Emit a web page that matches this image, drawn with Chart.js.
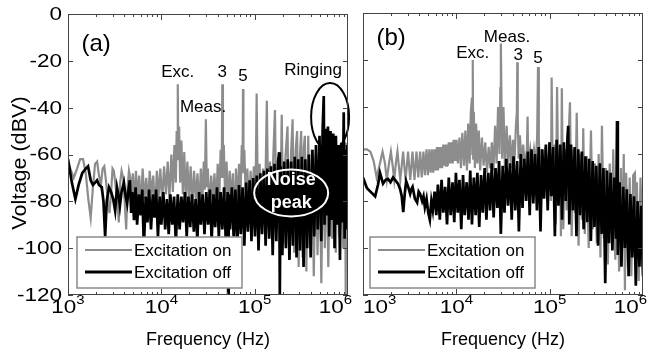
<!DOCTYPE html>
<html>
<head>
<meta charset="utf-8">
<script src="https://cdn.jsdelivr.net/npm/chart.js@4.4.1/dist/chart.umd.min.js"></script>
<style>
  html, body { margin: 0; padding: 0; background: #fff; }
  #wrap { position: relative; width: 652px; height: 352px; }
  #chartA { position: absolute; left: 0; top: 0; }
  #chartB { position: absolute; left: 352px; top: 0; }
</style>
</head>
<body>
<div id="wrap">
  <canvas id="chartA" width="352" height="352"></canvas>
  <canvas id="chartB" width="300" height="352"></canvas>
</div>
<script>
const GRAY = '#8c8c8c';
const FONT = '"Liberation Sans", Arial, sans-serif';

// axis ticks
const yTicks = [0, -20, -40, -60, -80, -100, -120];
const xDecades = [1e3, 1e4, 1e5, 1e6];
const xExponents = ['3', '4', '5', '6'];
const seriesNames = ['Excitation on', 'Excitation off'];

// panel (a): [kHz, dBV]
const onA = [
  [1,-63],[1.08,-67],[1.15,-70],[1.25,-66],[1.35,-62],[1.45,-62],[1.55,-68],[1.65,-79],[1.75,-87],[1.85,-74],
  [1.95,-64],[2.05,-63],[2.15,-69],[2.25,-73],[2.35,-66],[2.45,-65],[2.55,-71],[2.65,-78],[2.78,-85],[2.9,-76],
  [3.0,-66],[3.1,-67],[3.25,-74],[3.4,-81],[3.5,-89],[3.62,-72],[3.75,-67],[3.9,-70],[4.05,-80],[4.2,-92],
  [4.35,-74],[4.5,-67],[4.65,-70],[4.8,-82],[4.95,-68],
  [5.15,-80],[5.35,-67],[5.55,-78],[5.8,-69],[6.05,-84],[6.3,-66],[6.6,-79],[6.9,-70],[7.2,-82],[7.5,-67],
  [7.85,-77],[8.2,-69],[8.55,-85],[8.95,-67],[9.35,-78],[9.75,-66],[10.2,-80],[10.7,-65],[11.2,-77],[11.7,-63],
  [12.2,-79],[12.8,-60],[13.3,-76],[13.8,-56],[14.3,-72],[14.6,-50],[14.8,-62],[15,-30],[15.2,-60],[15.5,-48],
  [15.9,-72],[16.4,-54],[17,-77],[17.6,-59],[18.3,-80],[19,-63],[19.8,-79],[20.6,-65],[21.5,-82],[22.4,-67],
  [23.4,-79],[24.4,-68],[25.4,-83],[26.5,-66],[27.5,-80],[28.5,-63],[29.3,-75],[30,-45],[30.7,-74],[31.5,-66],
  [32.8,-84],[34.2,-69],[35.6,-80],[37.1,-68],[38.6,-82],[40.2,-64],[41.8,-78],[43.2,-58],[44.3,-70],[45,-30],
  [45.7,-70],[46.7,-56],[48.2,-78],[50,-63],[52,-82],[54,-67],[56.2,-80],[58.4,-68],[60.7,-90],[63,-66],
  [65.5,-81],[68,-64],[70.5,-78],[72.8,-56],[74.2,-66],[75,-32],[75.8,-68],[77.5,-58],[80.5,-80],[83.5,-66],
  [87,-85],[90.5,-67],[94,-82],[98,-65],[102,-80],[105,-34],[108,-78],[113,-64],[118,-88],[123,-66],
  [129,-84],[135,-37],[140,-86],[146,-63],[152,-95],[158,-62],[165,-41],[171,-92],[178,-65],[186,-100],
  [195,-43],[203,-98],[213,-62],[225,-48],[234,-105],[245,-60],[255,-45],[265,-102],[275,-58],[285,-50],
  [296,-108],[306,-60],[315,-50],[326,-104],[336,-57],[345,-52],[358,-110],[375,-52],[392,-100],[410,-58],
  [430,-112],[450,-60],[472,-103],[495,-56],[518,-115],[540,-58],[565,-100],[590,-62],[615,-108],[645,-58],
  [675,-96],[705,-60],[740,-102],[775,-58],[810,-95],[850,-60],[890,-100],[930,-55],[945,-120],[960,-60],
  [985,-95],[1000,-85]
];
const offA = [
  [1,-62],[1.1,-72],[1.2,-79],[1.3,-73],[1.42,-68],[1.55,-66],[1.64,-65],[1.75,-71],[1.85,-73],[1.95,-72],
  [2.05,-71],[2.15,-73],[2.3,-74],[2.4,-80],[2.5,-95],[2.6,-80],[2.75,-74],[2.9,-76],[3.05,-79],[3.2,-84],
  [3.35,-74],[3.5,-78],[3.6,-82],[3.75,-76],[3.97,-72],[4.15,-78],[4.3,-81],[4.45,-75],[4.6,-71],[4.75,-85],
  [4.9,-76],
  [5.1,-88],[5.3,-74],[5.5,-90],[5.75,-77],[6.0,-86],[6.25,-75],[6.5,-100],[6.8,-78],[7.1,-89],[7.4,-75],
  [7.75,-92],[8.1,-77],[8.45,-87],[8.8,-75],[9.2,-95],[9.6,-78],[10,-90],[10.5,-76],[11,-92],[11.5,-79],
  [12,-94],[12.5,-77],[13.1,-90],[13.7,-78],[14.3,-98],[15,-77],[15.7,-92],[16.4,-78],[17.1,-89],[17.9,-76],
  [18.7,-95],[19.5,-78],[20.4,-91],[21.3,-77],[22.3,-93],[23.3,-79],[24.3,-97],[25.4,-76],[26.5,-90],[27.7,-77],
  [29,-94],[30.3,-76],[31.7,-90],[33.1,-75],[34.6,-97],[36.2,-77],[37.8,-91],[39.5,-74],[41.3,-95],[43.1,-76],
  [45,-92],[47,-74],[49.1,-98],[51.3,-76],[52,-120],[52.7,-77],[54.5,-92],[57,-74],[59.5,-95],[62.2,-75],
  [65,-101],[68,-73],[71,-94],[74.2,-74],[77.5,-99],[81,-72],[84.6,-93],[88.4,-71],[92.4,-97],[96.5,-70],
  [100.8,-95],[105.3,-69],[110,-101],[115,-68],[120,-94],[125.5,-67],[131,-99],[137,-66],[143,-96],[149.5,-65],
  [156,-103],[163,-64],[170.5,-97],[178,-63],[183,-59],[186,-120],[190,-65],[198,-103],[207,-63],[216,-100],
  [226,-62],[236,-105],[246,-63],[257,-99],[269,-61],[281,-104],[293,-62],[306,-101],[320,-61],[334,-108],
  [349,-62],[365,-100],[381,-60],[398,-104],[416,-58],[435,-95],[454,-56],[474,-92],[495,-52],[517,-97],
  [535,-49],[550,-35],[560,-90],[575,-49],[590,-86],[610,-48],[630,-95],[650,-50],[672,-88],[695,-51],
  [718,-100],[742,-52],[767,-90],[793,-56],[820,-105],[847,-55],[876,-89],[900,-42],[920,-96],[940,-58],
  [960,-92],[980,-56],[1000,-80]
];

// panel (b): [kHz, dBV]
const onB = [
  [1,-58],[1.1,-58],[1.2,-59],[1.3,-63],[1.4,-70],[1.5,-65],[1.62,-59],[1.72,-64],[1.8,-71],[1.9,-64],
  [1.99,-59],[2.08,-65],[2.16,-71],[2.25,-64],[2.34,-59],[2.42,-65],[2.51,-71],[2.6,-65],[2.69,-59],[2.77,-65],
  [2.86,-71],[2.95,-65],[3.04,-59],[3.12,-65],[3.21,-71],[3.3,-65],[3.39,-59],[3.56,-71],[3.74,-59],[3.91,-70],
  [4.09,-59],[4.26,-70],[4.44,-59],[4.61,-69],[4.79,-58],[4.96,-69],[5.14,-58],[5.31,-68],[5.49,-58],[5.66,-68],
  [5.84,-58],[6.01,-67],[6.19,-57],[6.36,-67],[6.54,-57],[6.71,-66],[6.89,-57],[7.06,-66],[7.24,-56],[7.41,-65],
  [7.59,-56],[7.76,-65],[7.94,-56],[8.11,-65],[8.29,-55],[8.46,-64],[8.64,-55],[8.81,-64],[8.99,-55],[9.16,-64],
  [9.34,-54],[9.51,-63],[9.69,-54],[9.86,-63],
  [10.04,-54],[10.4,-64],[10.8,-53],[11.2,-66],[11.6,-51],[12.1,-65],[12.5,-50],[13,-67],[13.4,-47],[13.9,-64],
  [14.3,-42],[14.7,-36],[14.85,-60],[15,-20],[15.15,-62],[15.4,-42],[15.8,-66],[16.3,-47],[16.8,-64],[17.4,-50],
  [18,-67],[18.8,-53],[19.6,-65],[20.4,-55],[21.3,-68],[22.2,-57],[23.1,-66],[24,-55],[25,-67],[26,-48],
  [27,-64],[28,-40],[29,-60],[29.6,-32],[30,-13],[30.4,-34],[31,-62],[32,-40],[33.2,-66],[34.6,-48],
  [36,-64],[37.5,-52],[39,-66],[40.5,-54],[42,-63],[43.5,-48],[44.5,-42],[45,-21],[45.5,-45],[46.5,-62],
  [48,-52],[50,-64],[52,-56],[54.5,-66],[57,-58],[58,-44],[59,-65],[62,-58],[65,-66],[68,-58],
  [71,-64],[73.5,-52],[75,-23],[76.5,-54],[79,-66],[82,-58],[86,-68],[90,-57],[95,-70],[100,-55],
  [103,-80],[105,-27.5],[108,-72],[113,-56],[116,-90],[120,-31.5],[124,-75],[129,-57],[132,-95],[135,-32],
  [140,-92],[146,-58],[152,-84],[158,-56],[165,-38],[172,-95],[180,-58],[187,-85],[195,-42.5],[204,-99],
  [213,-60],[222,-88],[229,-49],[238,-94],[250,-61],[262,-100],[277,-50],[290,-92],[305,-64],[320,-98],
  [335,-60],[350,-104],[363,-48],[380,-96],[400,-66],[420,-107],[440,-64],[460,-98],[480,-58],[505,-105],
  [530,-68],[555,-110],[580,-66],[600,-100],[622,-60],[640,-118],[660,-68],[690,-108],[720,-70],[750,-112],
  [785,-69],[820,-68],[840,-104],[860,-72],[900,-114],[940,-70],[975,-108],[1000,-73]
];
const offB = [
  [1,-70],[1.1,-74.5],[1.2,-76],[1.35,-78],[1.45,-73],[1.52,-68],[1.64,-72.6],[1.75,-71],[1.85,-70.6],[1.97,-72],
  [2.1,-70],[2.2,-71],[2.37,-72.6],[2.5,-75],[2.6,-78],[2.7,-84.7],[2.8,-77],[2.9,-71.6],[3.05,-74],[3.2,-77],
  [3.3,-75],[3.4,-74],[3.6,-79],[3.8,-80.6],[3.95,-76],[4.1,-77],[4.3,-80],[4.45,-78],[4.6,-82.6],[4.8,-79],
  [5.0,-85],[5.2,-88],[5.4,-80],[5.6,-84],
  [5.85,-76],[6.1,-86],[6.35,-73],[6.65,-88],[6.95,-71],[7.25,-85],[7.6,-74],[7.95,-90],[8.3,-70],[8.7,-86],
  [9.1,-72],[9.5,-89],[9.9,-68],[10.35,-85],[10.8,-71],[11.3,-92],[11.8,-69],[12.3,-86],[12.9,-72],[13.5,-88],
  [14.1,-67],[14.7,-90],[15.4,-70],[16.1,-86],[16.8,-68],[17.6,-91],[18.4,-69],[19.2,-85],[20.1,-66],[21,-88],
  [22,-68],[23,-84],[24,-64],[25.1,-87],[26.3,-66],[27.5,-83],[28.7,-63],[30,-94],[31.4,-65],[32.8,-85],
  [34.3,-62],[35.8,-82],[37.5,-64],[39.2,-88],[41,-61],[42.8,-84],[44.8,-63],[46.8,-93],[49,-60],[51.2,-83],
  [53.5,-62],[56,-80],[58.5,-59],[61.1,-86],[63.9,-58],[66.8,-81],[69.8,-60],[73,-84],[76.3,-57],[79.8,-93],
  [83.4,-58],[87.2,-79],[91.1,-56],[95.3,-84],[99.6,-55],[104,-78],[108.8,-57],[113.7,-95],[118.9,-54],[124.3,-82],
  [130,-56],[135.8,-88],[142,-55],[148.5,-80],[155.2,-53],[158,-48],[162.2,-90],[169.6,-56],[177.3,-84],[185.3,-57],
  [193.7,-95],[202.5,-58],[211.7,-86],[221.3,-59],[231.3,-92],[241.8,-61],[252.8,-89],[264.3,-62],[276.3,-97],[288.8,-63],
  [301.9,-91],[315.6,-65],[330,-99],[345,-64],[360.6,-94],[377,-66],[394,-115],[411.9,-67],[430.6,-98],[450,-68],
  [470,-101],[491.8,-70],[514,-96],[527,-46],[537.4,-103],[561.8,-72],[587.3,-108],[614,-74],[641.8,-100],[670.9,-75],
  [701.4,-112],[733.2,-77],[766.5,-104],[801.3,-78],[837.6,-116],[875.6,-80],[915.3,-108],[956.9,-82],[1000,-112]
];

// text marks placed at (Hz, dBV)
const notesA = [
  { text: '(a)', f: 2000, db: -13, size: 24 },
  { text: 'Exc.', f: 15000, db: -25, size: 17 },
  { text: '3', f: 45000, db: -25, size: 17 },
  { text: '5', f: 75000, db: -26.5, size: 17 },
  { text: 'Meas.', f: 28000, db: -40, size: 17 },
  { text: 'Ringing', f: 422000, db: -24, size: 17 },
  { text: 'Noise', f: 246000, db: -71, size: 18, bold: true, color: '#fff' },
  { text: 'peak', f: 246000, db: -80.7, size: 18, bold: true, color: '#fff' }
];
const notesB = [
  { text: '(b)', f: 2000, db: -10.6, size: 24 },
  { text: 'Meas.', f: 34900, db: -10.2, size: 17 },
  { text: 'Exc.', f: 15000, db: -17, size: 17 },
  { text: '3', f: 45900, db: -18, size: 17 },
  { text: '5', f: 75000, db: -19.2, size: 17 }
];
const ellipsesA = [
  { f: 643000, db: -44, rx: 19, ry: 34, color: '#000' },
  { f: 246000, db: -76.4, rx: 37, ry: 23.5, color: '#fff' }
];

const toPoints = arr => arr.map(([k, db]) => ({ x: k * 1000, y: db }));

// text drawn wider than the font, as in the exported figure
function wideText(ctx, text, x, y, sx) {
  ctx.save();
  ctx.translate(x, y);
  ctx.scale(sx, 1);
  ctx.fillText(text, 0, 0);
  ctx.restore();
}

const panelPlugin = {
  id: 'panel',
  afterDatasetsDraw(chart, args, o) {
    const { ctx, chartArea: a } = chart;
    const xs = chart.scales.x, ys = chart.scales.y;
    ctx.save();

    // ellipses
    (o.ellipses || []).forEach(e => {
      ctx.beginPath();
      ctx.ellipse(xs.getPixelForValue(e.f), ys.getPixelForValue(e.db), e.rx, e.ry, 0, 0, Math.PI * 2);
      ctx.strokeStyle = e.color;
      ctx.lineWidth = 2;
      ctx.stroke();
    });

    // annotations
    o.notes.forEach(n => {
      ctx.font = (n.bold ? 'bold ' : '') + n.size + 'px ' + FONT;
      ctx.fillStyle = n.color || '#000';
      ctx.textAlign = 'center';
      ctx.textBaseline = 'middle';
      ctx.fillText(n.text, xs.getPixelForValue(n.f), ys.getPixelForValue(n.db));
    });

    // legend box
    const lw = 165, lh = 51;
    const lx = a.left + o.legendLeft, ly = a.bottom - 7 - lh;
    ctx.fillStyle = '#fff';
    ctx.fillRect(lx, ly, lw, lh);
    ctx.strokeStyle = '#8a8a8a';
    ctx.lineWidth = 1.5;
    ctx.strokeRect(lx, ly, lw, lh);
    [[GRAY, 2], ['#000', 3]].forEach(([c, w], i) => {
      const yy = ly + 13 + i * 22;
      ctx.beginPath();
      ctx.moveTo(lx + 8, yy);
      ctx.lineTo(lx + 55, yy);
      ctx.strokeStyle = c;
      ctx.lineWidth = w;
      ctx.stroke();
      ctx.font = '17px ' + FONT;
      ctx.fillStyle = '#000';
      ctx.textAlign = 'left';
      ctx.textBaseline = 'middle';
      ctx.fillText(seriesNames[i], lx + 57, yy + 1);
    });

    // frame
    ctx.strokeStyle = '#444';
    ctx.lineWidth = 1;
    ctx.strokeRect(a.left + 0.5, a.top + 0.5, a.right - a.left - 1, a.bottom - a.top - 1);

    // inward ticks
    ctx.beginPath();
    for (let d = 3; d < 6; d++) {
      for (let m = 1; m <= 9; m++) {
        const v = m * Math.pow(10, d);
        const px = Math.round(xs.getPixelForValue(v)) + 0.5;
        const len = m === 1 ? 6 : 3;
        ctx.moveTo(px, a.bottom); ctx.lineTo(px, a.bottom - len);
        ctx.moveTo(px, a.top); ctx.lineTo(px, a.top + len);
      }
    }
    yTicks.forEach(v => {
      const py = Math.round(ys.getPixelForValue(v)) + 0.5;
      ctx.moveTo(a.left, py); ctx.lineTo(a.left + 5, py);
      ctx.moveTo(a.right, py); ctx.lineTo(a.right - 5, py);
    });
    ctx.stroke();

    // y tick labels and title
    ctx.fillStyle = '#000';
    if (o.yLabels) {
      ctx.font = '18px ' + FONT;
      ctx.textAlign = 'right';
      ctx.textBaseline = 'middle';
      yTicks.forEach(v => wideText(ctx, String(v), a.left - 6, ys.getPixelForValue(v) + 1, 1.25));
      ctx.save();
      ctx.translate(20, 163);
      ctx.rotate(-Math.PI / 2);
      ctx.textAlign = 'center';
      ctx.font = '20px ' + FONT;
      wideText(ctx, 'Voltage (dBV)', 0, 0, 1.08);
      ctx.restore();
    }

    // x tick labels with superscript exponents
    const sx = 1.25;
    ctx.textBaseline = 'alphabetic';
    ctx.textAlign = 'left';
    xDecades.forEach((v, i) => {
      ctx.font = '18px ' + FONT;
      const wb = ctx.measureText('10').width * sx;
      ctx.font = '12px ' + FONT;
      const we = ctx.measureText(xExponents[i]).width * sx;
      let left = xs.getPixelForValue(v) - (wb + we) / 2;
      left = Math.max(o.labelMin, Math.min(o.labelMax - wb - we, left));
      ctx.font = '18px ' + FONT;
      wideText(ctx, '10', left, a.bottom + 18, sx);
      ctx.font = '12px ' + FONT;
      wideText(ctx, xExponents[i], left + wb, a.bottom + 9, sx);
    });

    ctx.font = '18px ' + FONT;
    ctx.textAlign = 'center';
    ctx.textBaseline = 'middle';
    ctx.fillText('Frequency (Hz)', (a.left + a.right) / 2, 340);
    ctx.restore();
  }
};

function makePanel(id, on, off, cfg) {
  return new Chart(document.getElementById(id), {
    type: 'line',
    data: {
      datasets: [
        { label: seriesNames[1], data: toPoints(off), borderColor: '#000', borderWidth: 2.7 },
        { label: seriesNames[0], data: toPoints(on), borderColor: GRAY, borderWidth: 2.2 }
      ]
    },
    options: {
      responsive: false,
      animation: false,
      elements: { point: { radius: 0 }, line: { tension: 0, fill: false, borderJoinStyle: 'miter' } },
      layout: { padding: cfg.padding },
      plugins: {
        legend: { display: false },
        tooltip: { enabled: false },
        panel: cfg.panel
      },
      scales: {
        x: {
          type: 'logarithmic', min: 1e3, max: 1e6,
          ticks: { display: false }, grid: { display: false }, border: { display: false },
          afterFit: s => { s.height = 57; }
        },
        y: {
          type: 'linear', min: -120, max: 0,
          ticks: { display: false, stepSize: 20 }, grid: { display: false }, border: { display: false },
          afterFit: s => { s.width = cfg.yWidth; }
        }
      }
    },
    plugins: [panelPlugin]
  });
}

makePanel('chartA', onA, offA, {
  padding: { left: 0, right: 4, top: 14, bottom: 0 },
  yWidth: 68,
  panel: { notes: notesA, ellipses: ellipsesA, legendLeft: 9, yLabels: true, labelMin: 0, labelMax: 352 }
});
makePanel('chartB', onB, offB, {
  padding: { left: 0, right: 9, top: 13, bottom: 0 },
  yWidth: 11,
  panel: { notes: notesB, ellipses: [], legendLeft: 7, yLabels: false, labelMin: 11, labelMax: 295 }
});
</script>
</body>
</html>
